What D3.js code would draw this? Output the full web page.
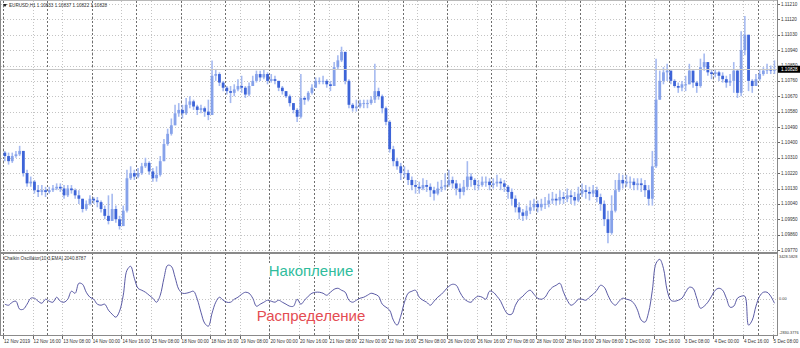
<!DOCTYPE html>
<html>
<head>
<meta charset="utf-8">
<script src="https://cdn.jsdelivr.net/npm/d3@7"></script>
<style>
  body { margin: 0; background: #fff; }
  svg { display: block; font-family: "Liberation Sans", Arial, sans-serif; }
</style>
</head>
<body>
<div id="chart"></div>
<script>
const WIDTH = 800
const HEIGHT = 348
const PLOT_LEFT = 3
const PLOT_RIGHT = 777
const BAR_W = 1.85          // one H1 bar on screen
const BARS_PER_CANDLE = 2   // candles below are read at 2-hour steps

const chartTitle = 'EURUSD,H1  1.10833 1.10837 1.10822 1.10828'
const oscTitle = 'Chaikin Oscillator(10,3,EMA) 2040.8787'
const lastPrice = 1.10828
const oscMax = 3428.5828
const oscMin = -2830.3776
const oscLabels = ['3428.5828', '0.00', '-2830.3776']

const priceTicks = [1.09770, 1.09860, 1.09950, 1.10040, 1.10130, 1.10220, 1.10310, 1.10400, 1.10490,
	1.10580, 1.10670, 1.10760, 1.10850, 1.10940, 1.11030, 1.11120, 1.11210]

// one label every 16 bars, starting at the first bar
const timeLabels = ['12 Nov 2019', '12 Nov 16:00', '13 Nov 08:00', '14 Nov 00:00', '14 Nov 16:00',
	'15 Nov 08:00', '18 Nov 00:00', '18 Nov 16:00', '19 Nov 08:00', '20 Nov 00:00', '20 Nov 16:00',
	'21 Nov 08:00', '22 Nov 00:00', '22 Nov 16:00', '25 Nov 08:00', '26 Nov 00:00', '26 Nov 16:00',
	'27 Nov 08:00', '28 Nov 00:00', '28 Nov 16:00', '29 Nov 08:00', '2 Dec 00:00', '2 Dec 16:00',
	'3 Dec 08:00', '4 Dec 00:00', '4 Dec 16:00', '5 Dec 08:00']

const firstOpen = 1.1034
const closes = [
	1.1032,1.1029,1.1032,1.1033,1.1035,1.1022,1.1016,1.1017,1.1012,1.1011,
	1.1012,1.1011,1.1012,1.1013,1.1014,1.1013,1.1009,1.1013,1.1012,1.1009,
	1.1007,1.1001,1.1004,1.1007,1.1006,1.1005,1.1001,1.0997,1.0994,1.1001,
	1.0995,1.0991,1.1000,1.1019,1.1022,1.1020,1.1022,1.1026,1.1028,1.1023,
	1.1019,1.1021,1.1029,1.1039,1.1045,1.1050,1.1057,1.1059,1.1057,1.1062,
	1.1064,1.1061,1.1059,1.1060,1.1058,1.1056,1.1079,1.1080,1.1075,1.1072,
	1.1070,1.1069,1.1071,1.1073,1.1072,1.1068,1.1073,1.1076,1.1080,1.1078,
	1.1080,1.1076,1.1077,1.1076,1.1072,1.1070,1.1067,1.1063,1.1059,1.1055,
	1.1066,1.1065,1.1069,1.1072,1.1076,1.1076,1.1076,1.1074,1.1073,1.1084,
	1.1088,1.1093,1.1076,1.1062,1.1060,1.1061,1.1063,1.1063,1.1063,1.1065,
	1.1070,1.1067,1.1060,1.1052,1.1036,1.1029,1.1026,1.1022,1.1022,1.1018,
	1.1015,1.1014,1.1013,1.1015,1.1014,1.1012,1.1010,1.1013,1.1014,1.1015,
	1.1018,1.1016,1.1013,1.1011,1.1014,1.1020,1.1018,1.1015,1.1015,1.1017,
	1.1017,1.1015,1.1016,1.1017,1.1016,1.1014,1.1011,1.1007,1.1002,1.0999,
	1.0997,1.1000,1.1002,1.1004,1.1002,1.1004,1.1004,1.1006,1.1007,1.1006,
	1.1008,1.1007,1.1009,1.1008,1.1006,1.1010,1.1012,1.1011,1.1010,1.1012,
	1.1008,1.1004,1.0995,1.0987,1.1000,1.1012,1.1018,1.1016,1.1017,1.1017,
	1.1015,1.1016,1.1015,1.1012,1.1007,1.1026,1.1065,1.1076,1.1081,1.1082,
	1.1076,1.1073,1.1072,1.1074,1.1074,1.1082,1.1075,1.1073,1.1084,1.1087,
	1.1081,1.1080,1.1081,1.1079,1.1077,1.1075,1.1076,1.1082,1.1069,1.1094,
	1.1103,1.1076,1.1073,1.1077,1.1080,1.1082,1.1083,1.1082,1.1083]
const highs = [
	1.1035,1.1034,1.1034,1.1035,1.1038,1.1035,1.1024,1.1020,1.1018,1.1015,
	1.1015,1.1014,1.1014,1.1015,1.1016,1.1016,1.1015,1.1015,1.1015,1.1013,
	1.1012,1.1007,1.1006,1.1009,1.1008,1.1008,1.1006,1.1003,1.1009,1.1010,
	1.1003,1.0997,1.1003,1.1024,1.1026,1.1024,1.1025,1.1028,1.1031,1.1029,
	1.1025,1.1026,1.1032,1.1042,1.1048,1.1054,1.1062,1.1063,1.1062,1.1066,
	1.1067,1.1065,1.1062,1.1062,1.1061,1.1065,1.1088,1.1083,1.1081,1.1076,
	1.1073,1.1073,1.1074,1.1077,1.1079,1.1073,1.1075,1.1079,1.1082,1.1082,
	1.1083,1.1081,1.1080,1.1079,1.1076,1.1073,1.1070,1.1068,1.1063,1.1060,
	1.1080,1.1067,1.1070,1.1074,1.1078,1.1078,1.1079,1.1077,1.1076,1.1087,
	1.1091,1.1096,1.1093,1.1077,1.1063,1.1065,1.1065,1.1065,1.1065,1.1067,
	1.1086,1.1072,1.1068,1.1061,1.1053,1.1038,1.1031,1.1028,1.1026,1.1024,
	1.1020,1.1018,1.1017,1.1019,1.1018,1.1016,1.1014,1.1017,1.1018,1.1022,
	1.1024,1.1020,1.1018,1.1016,1.1018,1.1029,1.1022,1.1019,1.1018,1.1020,
	1.1020,1.1019,1.1019,1.1021,1.1019,1.1018,1.1015,1.1013,1.1009,1.1005,
	1.1001,1.1003,1.1006,1.1007,1.1006,1.1007,1.1008,1.1010,1.1011,1.1010,
	1.1012,1.1011,1.1013,1.1012,1.1011,1.1014,1.1016,1.1015,1.1014,1.1015,
	1.1014,1.1010,1.1006,1.1000,1.1009,1.1018,1.1022,1.1021,1.1021,1.1020,
	1.1019,1.1019,1.1019,1.1018,1.1015,1.1035,1.1089,1.1082,1.1084,1.1086,
	1.1082,1.1077,1.1075,1.1076,1.1079,1.1086,1.1082,1.1076,1.1089,1.1092,
	1.1087,1.1083,1.1083,1.1082,1.1081,1.1079,1.1080,1.1087,1.1083,1.1105,
	1.1114,1.1103,1.1077,1.1080,1.1083,1.1084,1.1086,1.1085,1.1088]
const lows = [
	1.1029,1.1027,1.1028,1.1031,1.1032,1.1020,1.1014,1.1014,1.1010,1.1008,
	1.1009,1.1008,1.1010,1.1011,1.1012,1.1011,1.1007,1.1008,1.1010,1.1007,
	1.1004,1.0999,1.1000,1.1003,1.1004,1.1002,1.0999,1.0995,1.0992,1.0997,
	1.0993,1.0989,1.0991,1.0999,1.1018,1.1018,1.1019,1.1021,1.1025,1.1021,
	1.1017,1.1017,1.1020,1.1029,1.1038,1.1044,1.1050,1.1055,1.1054,1.1056,
	1.1060,1.1059,1.1056,1.1057,1.1055,1.1053,1.1063,1.1076,1.1073,1.1070,
	1.1068,1.1063,1.1067,1.1070,1.1069,1.1066,1.1067,1.1073,1.1075,1.1076,
	1.1077,1.1074,1.1075,1.1074,1.1070,1.1068,1.1066,1.1061,1.1057,1.1052,
	1.1054,1.1062,1.1064,1.1068,1.1072,1.1074,1.1074,1.1072,1.1070,1.1073,
	1.1083,1.1087,1.1074,1.1060,1.1058,1.1058,1.1060,1.1060,1.1060,1.1062,
	1.1063,1.1065,1.1057,1.1050,1.1034,1.1026,1.1024,1.1018,1.1019,1.1015,
	1.1012,1.1010,1.1010,1.1012,1.1011,1.1008,1.1006,1.1009,1.1011,1.1012,
	1.1014,1.1013,1.1009,1.1007,1.1009,1.1012,1.1014,1.1012,1.1012,1.1014,
	1.1014,1.1012,1.1013,1.1014,1.1012,1.1011,1.1007,1.1003,1.0999,1.0995,
	1.0994,1.0995,1.0998,1.1000,1.0999,1.1000,1.1001,1.1002,1.1004,1.1003,
	1.1004,1.1004,1.1005,1.1004,1.1003,1.1005,1.1008,1.1007,1.1006,1.1008,
	1.1005,1.1000,1.0991,1.0981,1.0986,1.0999,1.1011,1.1013,1.1014,1.1013,
	1.1012,1.1012,1.1011,1.1008,1.1003,1.1003,1.1025,1.1066,1.1074,1.1076,
	1.1074,1.1072,1.1069,1.1070,1.1070,1.1075,1.1072,1.1069,1.1072,1.1082,
	1.1079,1.1077,1.1078,1.1076,1.1075,1.1072,1.1073,1.1069,1.1066,1.1067,
	1.1091,1.1070,1.1069,1.1073,1.1076,1.1079,1.1080,1.1080,1.1080]
const chaikin = [
	-440,-520,-280,-200,-840,-840,-440,40,40,-200,
	-360,-40,-200,-280,120,-200,-280,-40,600,440,
	1240,1160,520,120,-40,-440,-520,-440,-920,-1240,
	-1480,-1000,280,2280,2600,1640,840,680,520,280,
	40,-280,280,1640,2680,2600,1720,760,440,440,
	520,600,-40,-1080,-1960,-2200,-1160,-280,120,-120,
	-280,-280,-40,120,360,520,440,40,-600,-440,
	-280,-120,-200,-280,-120,-280,-440,-600,-600,-40,
	-440,-120,200,440,520,520,440,280,520,760,
	840,680,520,-120,-280,-120,40,120,280,440,
	360,200,-440,-680,-920,-1720,-2120,-1400,-280,440,
	600,680,120,-120,-280,-520,-200,120,360,680,
	1000,1160,1080,520,40,-200,-280,40,200,120,
	-40,600,520,200,-200,-840,-1240,-1240,-520,-40,
	200,520,680,360,40,-40,120,600,920,1080,
	1240,520,-120,-520,-360,-40,-40,-120,120,360,
	680,1080,920,280,-280,-520,-200,40,-40,-120,
	-360,-920,-1720,-1880,-1080,680,2840,3160,2440,680,
	-120,-200,-120,40,520,920,840,40,-760,-600,
	-280,200,680,840,680,40,-680,-600,40,200,
	200,-2120,-1720,-600,200,520,520,200,-360]

const totalBars = closes.length * BARS_PER_CANDLE

// scales
const xScale = d3.scaleLinear()
	.domain([0, totalBars])
	.range([PLOT_LEFT, PLOT_LEFT + totalBars * BAR_W])

const priceScale = d3.scaleLinear()
	.domain([1.09770, 1.11210])
	.range([250, 4])

const oscScale = d3.scaleLinear()
	.domain([oscMin, oscMax])
	.range([334, 256])

const candles = closes.map((c, i) => ({
	i: i,
	open: i ? closes[i - 1] : firstOpen,
	close: c,
	high: highs[i],
	low: lows[i]
}))

let svg = d3.select('#chart')
	.append('svg')
	.attr('width', WIDTH)
	.attr('height', HEIGHT)

svg.append('rect')
	.attr('width', WIDTH)
	.attr('height', HEIGHT)
	.attr('fill', '#fff')

drawGrid()
drawCandles()
drawOscillator()
drawFrame()
drawLabels()

function drawGrid() {
	let grid = svg.append('g').attr('class', 'grid')

	// price levels
	grid.selectAll('.hgrid')
		.data(priceTicks)
		.enter()
		.append('line')
		.attr('x1', 1)
		.attr('x2', PLOT_RIGHT)
		.attr('y1', d => Math.round(priceScale(d)) + 0.5)
		.attr('y2', d => Math.round(priceScale(d)) + 0.5)
		.attr('stroke', '#c4c4c4')
		.attr('stroke-dasharray', '1,2')

	// oscillator zero level
	grid.append('line')
		.attr('x1', 1)
		.attr('x2', PLOT_RIGHT)
		.attr('y1', Math.round(oscScale(0)) + 0.5)
		.attr('y2', Math.round(oscScale(0)) + 0.5)
		.attr('stroke', '#c4c4c4')
		.attr('stroke-dasharray', '1,2')

	// time grid, one line per label
	grid.selectAll('.vgrid')
		.data(timeLabels)
		.enter()
		.append('line')
		.attr('x1', (d, i) => Math.round(xScale(i * 16)) + 0.5)
		.attr('x2', (d, i) => Math.round(xScale(i * 16)) + 0.5)
		.attr('y1', 1)
		.attr('y2', 335)
		.attr('stroke', '#c4c4c4')
		.attr('stroke-dasharray', '1,2')

	// day separators
	let days = d3.range(0, totalBars, 24)
	grid.selectAll('.sep')
		.data(days)
		.enter()
		.append('line')
		.attr('x1', d => Math.round(xScale(d)) + 0.5)
		.attr('x2', d => Math.round(xScale(d)) + 0.5)
		.attr('y1', 1)
		.attr('y2', 335)
		.attr('stroke', '#6e6e6e')
		.attr('stroke-dasharray', '2,2')
}

function drawCandles() {
	let g = svg.append('g')
		.attr('class', 'candles')

	let cx = d => xScale(d.i * BARS_PER_CANDLE + 1)

	g.selectAll('.wick')
		.data(candles)
		.enter()
		.append('line')
		.attr('x1', cx)
		.attr('x2', cx)
		.attr('y1', d => priceScale(Math.max(d.high, d.open, d.close)))
		.attr('y2', d => priceScale(Math.min(d.low, d.open, d.close)))
		.attr('stroke', '#a6baf0')
		.attr('stroke-width', 1.6)

	g.selectAll('.body')
		.data(candles)
		.enter()
		.append('rect')
		.attr('x', d => cx(d) - 1.4)
		.attr('width', 2.8)
		.attr('y', d => priceScale(Math.max(d.open, d.close)))
		.attr('height', d => Math.max(1, Math.abs(priceScale(d.open) - priceScale(d.close))))
		.attr('fill', d => d.close >= d.open ? '#86a2ea' : '#3d64d8')

	// bid line
	svg.append('line')
		.attr('x1', 1)
		.attr('x2', PLOT_RIGHT)
		.attr('y1', Math.round(priceScale(lastPrice)) + 0.5)
		.attr('y2', Math.round(priceScale(lastPrice)) + 0.5)
		.attr('stroke', '#c8c8c8')
}

function drawOscillator() {
	let line = d3.line()
		.x((d, i) => xScale(i * BARS_PER_CANDLE + 1))
		.y(d => oscScale(d))
		.curve(d3.curveCatmullRom)

	svg.append('path')
		.datum(chaikin)
		.attr('d', line)
		.attr('fill', 'none')
		.attr('stroke', '#47479a')
		.attr('stroke-width', 0.9)

	// annotations
	let notes = [
		{ text: 'Накопление', y: 276, color: '#2fbc9c' },
		{ text: 'Распределение', y: 321, color: '#e44c52' }
	]
	svg.selectAll('.note')
		.data(notes)
		.enter()
		.append('text')
		.attr('class', 'note')
		.attr('x', 311)
		.attr('y', d => d.y)
		.attr('text-anchor', 'middle')
		.style('font-family', '"Liberation Sans", Arial, sans-serif')
		.style('font-size', '15px')
		.attr('fill', d => d.color)
		.attr('stroke', '#fff')
		.attr('stroke-width', 3)
		.attr('stroke-linejoin', 'round')
		.attr('paint-order', 'stroke')
		.text(d => d.text)
}

function drawFrame() {
	let frame = svg.append('g').attr('class', 'frame')

	frame.append('line')
		.attr('x1', 0.5).attr('x2', 0.5)
		.attr('y1', 0).attr('y2', 336)
		.attr('stroke', '#8a8a8a')
	frame.append('line')
		.attr('x1', 0).attr('x2', PLOT_RIGHT)
		.attr('y1', 0.5).attr('y2', 0.5)
		.attr('stroke', '#b8b8b8')
	frame.append('line')
		.attr('x1', PLOT_RIGHT + 0.5).attr('x2', PLOT_RIGHT + 0.5)
		.attr('y1', 0).attr('y2', 336)
		.attr('stroke', '#8a8a8a')
	// pane separator
	frame.append('rect')
		.attr('x', 0).attr('width', PLOT_RIGHT + 1)
		.attr('y', 252).attr('height', 2)
		.attr('fill', '#8a8a8a')
	frame.append('line')
		.attr('x1', 0).attr('x2', PLOT_RIGHT + 1)
		.attr('y1', 335.5).attr('y2', 335.5)
		.attr('stroke', '#8a8a8a')
}

function drawLabels() {
	let fs = '4.6px'

	// title
	svg.append('path')
		.attr('d', 'M3,4 L7,4 L5,7 Z')
		.attr('fill', '#222')
	svg.append('text')
		.attr('x', 9)
		.attr('y', 7)
		.style('font-size', fs)
		.attr('fill', '#333')
		.text(chartTitle)

	svg.append('text')
		.attr('x', 4)
		.attr('y', 259.5)
		.style('font-size', fs)
		.attr('fill', '#333')
		.text(oscTitle)

	// price axis
	svg.selectAll('.plabel')
		.data(priceTicks)
		.enter()
		.append('text')
		.attr('x', 781)
		.attr('y', d => priceScale(d) + 1.6)
		.style('font-size', fs)
		.attr('fill', '#333')
		.text(d => d.toFixed(5))

	svg.selectAll('.ptick')
		.data(priceTicks)
		.enter()
		.append('line')
		.attr('x1', PLOT_RIGHT + 1).attr('x2', PLOT_RIGHT + 3)
		.attr('y1', d => Math.round(priceScale(d)) + 0.5)
		.attr('y2', d => Math.round(priceScale(d)) + 0.5)
		.attr('stroke', '#666')

	// current price box
	let py = priceScale(lastPrice)
	svg.append('rect')
		.attr('x', PLOT_RIGHT + 1)
		.attr('y', py - 3.5)
		.attr('width', WIDTH - PLOT_RIGHT)
		.attr('height', 7)
		.attr('fill', '#000')
	svg.append('text')
		.attr('x', 781)
		.attr('y', py + 1.6)
		.style('font-size', fs)
		.attr('fill', '#fff')
		.text(lastPrice.toFixed(5))

	// oscillator axis, a bit smaller so the long values fit the strip
	let oscVals = [oscMax, 0, oscMin]
	svg.selectAll('.olabel')
		.data(oscLabels)
		.enter()
		.append('text')
		.attr('x', 779)
		.attr('y', (d, i) => Math.min(333.5, Math.max(258, oscScale(oscVals[i]) + 1.5)))
		.style('font-size', '3.9px')
		.attr('fill', '#333')
		.text(d => d)

	// time axis
	svg.selectAll('.tlabel')
		.data(timeLabels)
		.enter()
		.append('text')
		.attr('x', (d, i) => xScale(i * 16) + 1)
		.attr('y', 343)
		.style('font-size', fs)
		.attr('fill', '#333')
		.text(d => d)

	svg.selectAll('.ttick')
		.data(timeLabels)
		.enter()
		.append('line')
		.attr('x1', (d, i) => Math.round(xScale(i * 16)) + 0.5)
		.attr('x2', (d, i) => Math.round(xScale(i * 16)) + 0.5)
		.attr('y1', 336)
		.attr('y2', 339)
		.attr('stroke', '#666')
}
</script>
</body>
</html>
